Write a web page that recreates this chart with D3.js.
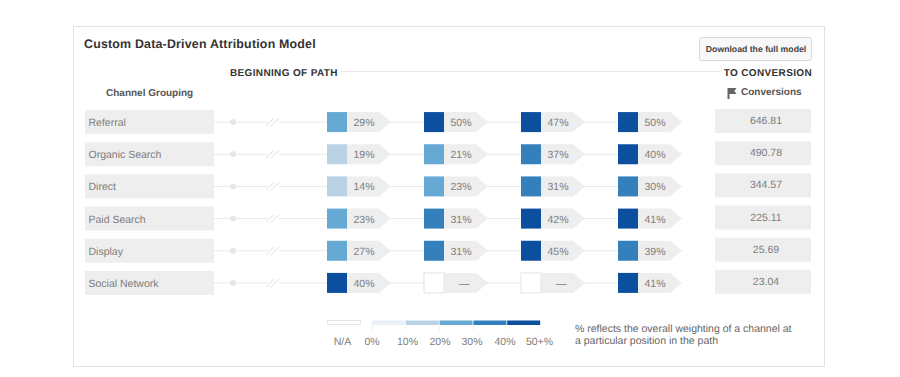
<!DOCTYPE html>
<html><head><meta charset="utf-8">
<script src="https://cdn.jsdelivr.net/npm/d3@7/dist/d3.min.js"></script>
<style>
html,body{margin:0;padding:0;background:#fff}
svg{display:block}
text{font-family:"Liberation Sans",Arial,sans-serif;text-rendering:geometricPrecision}
</style></head><body>
<svg id="c" width="900" height="377"></svg>
<script>
const channels=["Referral","Organic Search","Direct","Paid Search","Display","Social Network"];
const position1=[29,19,14,23,27,40];
const position2=[50,21,23,31,31,null];
const position3=[47,37,31,42,45,null];
const position4=[50,40,30,41,39,41];
const conversions=["646.81","490.78","344.57","225.11","25.69","23.04"];
const binEdges=[10,20,30,40];
const binColors=["#e9f0f8","#b9d3e5","#66a9d4","#3480bd","#0b4f9e"];
const legendLabels=["0%","10%","20%","30%","40%","50+%"];
const positions=[position1,position2,position3,position4];

const svg=d3.select("#c");
const color=d3.scaleThreshold().domain(binEdges).range(binColors);
const y=d3.scaleBand().domain(channels).range([106,299]).paddingInner(0).paddingOuter(0);
const x=d3.scaleLinear().domain([0,3]).range([327,618]);
const grey="#eeeeee", line="#e8e8e8", txt="#7d7d7d", dark="#333";

svg.append("rect").attr("x",73.5).attr("y",26.5).attr("width",751).attr("height",340).attr("fill","#fff").attr("stroke","#e2e2e2");
svg.append("text").attr("x",84).attr("y",48).attr("font-size",12.4).attr("font-weight",700).attr("letter-spacing",0.2).attr("fill",dark).text("Custom Data-Driven Attribution Model");

svg.append("rect").attr("x",699.5).attr("y",37.5).attr("width",112).attr("height",23).attr("rx",2).attr("fill","#f8f8f8").attr("stroke","#d8d8d8");
svg.append("text").attr("x",756).attr("y",52).attr("text-anchor","middle").attr("font-size",8.7).attr("font-weight",700).attr("fill","#444").text("Download the full model");

svg.append("line").attr("x1",341).attr("x2",722).attr("y1",71.5).attr("y2",71.5).attr("stroke",line);
svg.append("text").attr("x",230).attr("y",76).attr("font-size",10).attr("font-weight",700).attr("letter-spacing",0.35).attr("fill",dark).text("BEGINNING OF PATH");
svg.append("text").attr("x",812).attr("y",76).attr("text-anchor","end").attr("font-size",10).attr("font-weight",700).attr("letter-spacing",0.35).attr("fill",dark).text("TO CONVERSION");
svg.append("text").attr("x",106).attr("y",96).attr("font-size",10).attr("font-weight",700).attr("fill","#555").text("Channel Grouping");
svg.append("text").attr("x",741).attr("y",95).attr("font-size",10).attr("font-weight",700).attr("fill","#555").text("Conversions");
svg.append("path").attr("d","M727.5 88h9l-2 3 2 3h-7v5h-2z").attr("fill","#666");

const rows=svg.selectAll("g.row").data(channels).join("g").attr("class","row")
  .attr("transform",d=>`translate(0,${y(d)+y.bandwidth()/2})`);

rows.append("line").attr("x1",214).attr("x2",268).attr("stroke",line);
rows.append("line").attr("x1",279).attr("x2",618).attr("stroke",line);
rows.append("circle").attr("cx",233).attr("r",3).attr("fill","#e6e6e6");
rows.append("path").attr("d","M266 4L274 -4M271 4L279 -4").attr("stroke","#dcdcdc").attr("fill","none");
rows.append("rect").attr("x",85).attr("y",-12).attr("width",129).attr("height",24).attr("fill",grey);
rows.append("text").attr("x",88.5).attr("y",4).attr("font-size",10.5).attr("fill",txt).text(d=>d);
rows.append("rect").attr("x",715).attr("y",-13).attr("width",96).attr("height",24).attr("fill",grey);
rows.append("text").attr("x",766).attr("y",2).attr("text-anchor","middle").attr("font-size",10.5).attr("fill",txt).text((d,i)=>conversions[i]);

positions.forEach((vals,col)=>{
  const g=rows.append("g").attr("transform",`translate(${x(col)},0)`);
  g.append("path").attr("d","M20 -10H52L64 0L52 10H20Z").attr("fill",grey);
  g.append("rect").attr("x",0).attr("y",-10).attr("width",20).attr("height",20)
    .attr("fill",(d,i)=>vals[i]==null?"#fff":color(vals[i]))
    .attr("stroke",(d,i)=>vals[i]==null?"#e4e4e4":"none");
  g.append("text").attr("x",(d,i)=>vals[i]==null?35:26.5).attr("y",4).attr("font-size",10.5).attr("fill",txt)
    .text((d,i)=>vals[i]==null?"—":vals[i]+"%");
});

// legend
const lx=d3.scaleLinear().domain([0,50]).range([372,541]);
svg.append("rect").attr("x",327.5).attr("y",320.5).attr("width",33).attr("height",4).attr("fill","#fff").attr("stroke","#e6e6e6");
svg.selectAll("rect.bin").data(binColors).join("rect").attr("class","bin")
  .attr("x",(d,i)=>lx(i*10)).attr("y",320.5).attr("width",33).attr("height",4.5).attr("fill",d=>d);
svg.selectAll("line.lt").data(legendLabels).join("line").attr("class","lt")
  .attr("x1",(d,i)=>lx(i*10)).attr("x2",(d,i)=>lx(i*10)).attr("y1",326).attr("y2",330).attr("stroke","#eeeeee");
const legendTextX=[372,407.5,440,472,505,539.5];
svg.selectAll("text.lg").data(legendLabels).join("text").attr("class","lg")
  .attr("x",(d,i)=>legendTextX[i]).attr("y",345).attr("text-anchor","middle").attr("font-size",10.5).attr("fill",txt).text(d=>d);
svg.append("text").attr("x",342.5).attr("y",345).attr("text-anchor","middle").attr("font-size",10.5).attr("fill",txt).text("N/A");
svg.append("text").attr("x",575).attr("y",332).attr("font-size",10.5).attr("fill","#666").text("% reflects the overall weighting of a channel at");
svg.append("text").attr("x",575).attr("y",344).attr("font-size",10.5).attr("fill","#666").text("a particular position in the path");
</script></body></html>
